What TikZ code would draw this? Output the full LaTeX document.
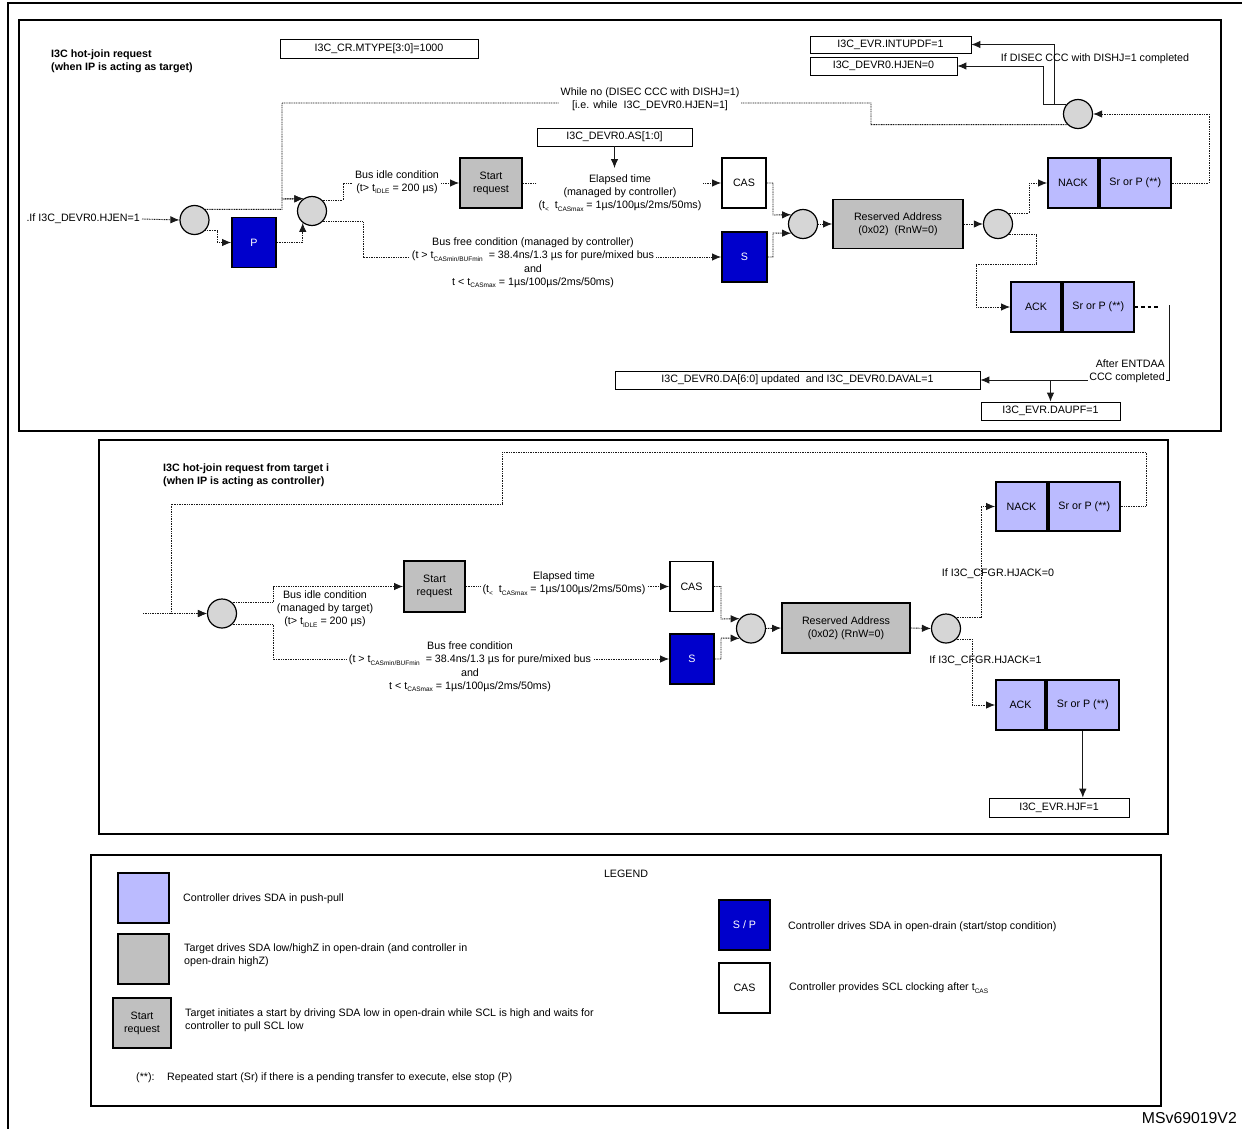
\documentclass[tikz,border=0pt]{standalone}
\usepackage{fontspec}
\setmainfont{Liberation Sans}
\setsansfont{Liberation Sans}
\usetikzlibrary{positioning,arrows.meta}

\definecolor{sdablue}{RGB}{0,0,204}
\definecolor{pushlav}{RGB}{187,187,255}
\definecolor{draingray}{RGB}{192,192,192}
\definecolor{junctiongray}{RGB}{214,214,214}

\newcommand{\lblfont}{\fontsize{10.7}{13.2}\selectfont}
\newcommand{\tsub}[1]{\raisebox{-0.45ex}{\fontsize{6.5}{7}\selectfont #1}}

\begin{document}
\begin{tikzpicture}[x=1pt, y=-1pt,
	every node/.style={font=\lblfont, inner sep=2pt},
	panel/.style={draw, line width=1.2pt},
	title/.style={font=\lblfont\bfseries, align=left, anchor=west},
	regbox/.style={draw, line width=0.8pt, minimum height=18pt},
	junction/.style={circle, draw, fill=junctiongray, line width=1.2pt, minimum size=29pt, inner sep=0pt},
	odblue/.style={draw, fill=sdablue, text=white, line width=1.8pt, minimum width=44pt, minimum height=50pt},
	odgray/.style={draw, fill=draingray, line width=1.8pt, minimum height=50pt, align=center},
	pplav/.style={draw, fill=pushlav, line width=1.8pt, minimum height=50pt},
	casbox/.style={draw, fill=white, line width=1.8pt, minimum width=44pt, minimum height=50pt},
	onwire/.style={fill=white, align=center},
	wire/.style={draw=black!90, line width=0.9pt, dash pattern=on 1pt off 0.7pt, -{Latex[length=9pt,width=7.5pt]}},
	solidwire/.style={draw=black!90, line width=0.9pt, -{Latex[length=9pt,width=7.5pt]}}]

	\useasboundingbox (0,0) rectangle (1242,1129);

	% frame and the three panels
	\draw[line width=2.4pt] (8,1129) -- (8,3) -- (1242,3);
	\draw[panel] (19,20) rectangle (1221,431);
	\draw[panel] (99,440) rectangle (1168,834);
	\draw[panel] (91,855) rectangle (1161,1106);

	% ---- hot-join, IP as target ----
	\node[title] (ttltarget) at (49,61) {I3C hot-join request\\(when IP is acting as target)};
	\node[regbox, minimum width=198pt, minimum height=19pt] (mtype) at (379,48.5) {I3C\_CR.MTYPE[3:0]=1000};
	\node[regbox, minimum width=161pt, minimum height=17pt] (intupdf) at (890.5,44.5) {I3C\_EVR.INTUPDF=1};
	\node[regbox, minimum width=147pt] (hjenoff) at (883.5,66) {I3C\_DEVR0.HJEN=0};
	\node[regbox, minimum width=155pt] (asreg) at (614.5,137) {I3C\_DEVR0.AS[1:0]};
	\coordinate (astip) at (614.5,168);

	\node[anchor=east] (ifhjen) at (142,219) {.If I3C\_DEVR0.HJEN=1};
	\node[junction] (c1) at (194.5,220) {};
	\node[odblue] (pbox) at (254,242.5) {P};
	\node[junction] (c2) at (312,211) {};
	\node[odgray, minimum width=62pt] (startreq) at (491,183) {Start\\request};
	\node[casbox] (cas) at (744,183) {CAS};
	\node[odblue, minimum width=45pt] (sbox) at (744.5,257) {S};
	\node[junction] (c3) at (803,224) {};
	\node[odgray, minimum width=130pt, minimum height=49pt] (resv) at (898,224) {Reserved Address\\(0x02)~~(RnW=0)};
	\node[junction] (c4) at (998,224) {};
	\node[pplav, minimum width=50pt] (nack) at (1073,183) {NACK};
	\node[pplav, minimum width=71pt, right=0pt of nack] (srn) {Sr or P (**)};
	\node[junction] (cdis) at (1078,114) {};
	\node[pplav, minimum width=50pt] (ack) at (1036,307) {ACK};
	\node[pplav, minimum width=71pt, right=0pt of ack] (sra) {Sr or P (**)};
	\coordinate (dotend) at (1158,307);
	\coordinate (entdaa) at (1169,305);
	\node[regbox, minimum width=365pt] (dareg) at (797.5,380) {I3C\_DEVR0.DA[6:0] updated~~and I3C\_DEVR0.DAVAL=1};
	\node[regbox, minimum width=139pt] (daupf) at (1050.5,411) {I3C\_EVR.DAUPF=1};

	\draw[wire] (ifhjen.east) -- (c1.west);
	\draw[wire] (c1.south east) -| ([xshift=-14pt]pbox.west) -- (pbox.west);
	\draw[wire] (c1.north east) -| (282,199) -- (c2.125);
	\draw[wire] (cdis.south west) -| (871,103) -| (282,199) -- (c2.125);
	\draw[wire] (pbox.east) -| (c2.-128);
	\draw[wire] (c2.north east) -| (343,183) -- (startreq.west);
	\draw[wire] (c2.south east) -| (363,257) -- (sbox.west);
	\draw[wire] (startreq.east) -- (cas.west);
	\draw[solidwire] (asreg.south) -- (astip);
	\draw[wire] (cas.east) -| (773,215) -- (c3.142);
	\draw[wire] (sbox.east) -| (773,233) -- (c3.-142);
	\draw[wire] (c3.east) -- (resv.west);
	\draw[wire] (resv.east) -- (c4.west);
	\draw[wire] (c4.north east) -| (1029,183) -- (nack.west);
	\draw[wire] (c4.south east) -| (1036,264) -| (976,307) -- (ack.west);
	\draw[wire] (srn.east) -| (1209,114) -- (cdis.east);
	\draw[solidwire] (cdis.140) -| (1043,66) -- (hjenoff.east);
	\draw[solidwire] (cdis.140) -| (1054,44.5) -- (intupdf.east);
	\draw[line width=2pt, dash pattern=on 3.5pt off 3pt] (sra.east) -- (dotend);
	\draw[solidwire] (entdaa) |- (dareg.east);
	\draw[solidwire] (daupf.north |- dareg.east) -- (daupf.north);

	\node[onwire] (whileno) at (650,99.5) {While no (DISEC CCC with DISHJ=1)\\{}[i.e. while~~I3C\_DEVR0.HJEN=1]};
	\node[onwire] (idlelbl) at (397,182) {Bus idle condition\\(t> t\tsub{IDLE} = 200 µs)};
	\node[onwire] (elapsedlbl) at (620,193) {Elapsed time\\(managed by controller)\\(t\tsub{<}~~t\tsub{CASmax} = 1µs/100µs/2ms/50ms)};
	\node[onwire] (freelbl) at (533,263) {Bus free condition (managed by controller)\\(t > t\tsub{CASmin/BUFmin}~~= 38.4ns/1.3 µs for pure/mixed bus\\and\\t < t\tsub{CASmax} = 1µs/100µs/2ms/50ms)};
	\node (dislbl) at (1095,59) {If DISEC CCC with DISHJ=1 completed};
	\node[onwire, align=right, anchor=east, inner sep=1pt] (afterlbl) at (1166,371) {After ENTDAA\\CCC completed};

	% ---- hot-join, IP as controller ----
	\node[title] (ttlctrl) at (161,475) {I3C hot-join request from target i\\(when IP is acting as controller)};
	\coordinate (mentry) at (143,613.5);
	\node[junction] (cm1) at (222,613.5) {};
	\node[odgray, minimum width=61pt, minimum height=51pt] (startm) at (434.5,586.5) {Start\\request};
	\node[casbox, minimum width=43pt] (casm) at (691.5,586.5) {CAS};
	\node[odblue] (sm) at (692,659) {S};
	\node[junction] (cm2) at (751,628.5) {};
	\node[odgray, minimum width=128pt] (resvm) at (846,628) {Reserved Address\\(0x02) (RnW=0)};
	\node[junction] (cm3) at (946,628.5) {};
	\node[pplav, minimum width=51pt, minimum height=49pt] (nackm) at (1021.5,506.5) {NACK};
	\node[pplav, minimum width=71pt, minimum height=49pt, right=0pt of nackm] (srnm) {Sr or P (**)};
	\node[pplav, minimum width=49pt] (ackm) at (1020.5,705) {ACK};
	\node[pplav, minimum width=72pt, right=0pt of ackm] (sram) {Sr or P (**)};
	\node[regbox, minimum width=140pt, minimum height=19pt] (hjf) at (1059,807.5) {I3C\_EVR.HJF=1};

	\draw[wire] (mentry) -- (cm1.west);
	\draw[wire] (srnm.east) -| (1146,452) -| (502,504) -| (171,613.5) -- (cm1.west);
	\draw[wire] (cm1.north east) -| (273,586.5) -- (startm.west);
	\draw[wire] (cm1.south east) -| (273,659) -- (sm.west);
	\draw[wire] (startm.east) -- (casm.west);
	\draw[wire] (casm.east) -| (721,619) -- (cm2.139);
	\draw[wire] (sm.east) -| (721,638) -- (cm2.-139);
	\draw[wire] (cm2.east) -- (resvm.west);
	\draw[wire] (resvm.east) -- (cm3.west);
	\draw[wire] (cm3.north east) -| (981,506.5) -- (nackm.west);
	\draw[wire] (cm3.south east) -| (972,705) -- (ackm.west);
	\draw[solidwire] (sram.south) -- (sram.south |- hjf.north);

	\node[align=center] (idlem) at (325,609) {Bus idle condition\\(managed by target)\\(t> t\tsub{IDLE} = 200 µs)};
	\node[onwire] (elapsedm) at (564,583.5) {Elapsed time\\(t\tsub{<}~~t\tsub{CASmax} = 1µs/100µs/2ms/50ms)};
	\node[onwire] (freem) at (470,667) {Bus free condition\\(t > t\tsub{CASmin/BUFmin}~~= 38.4ns/1.3 µs for pure/mixed bus\\and\\t < t\tsub{CASmax} = 1µs/100µs/2ms/50ms)};
	\node (hjack0) at (998,574) {If I3C\_CFGR.HJACK=0};
	\node (hjack1) at (985.5,661) {If I3C\_CFGR.HJACK=1};

	% ---- legend ----
	\node (legendttl) at (626,874) {LEGEND};
	\node[pplav, minimum width=51pt] (lgpush) at (143.5,898) {};
	\node[anchor=west] (lgpushtxt) at (181,899) {Controller drives SDA in push-pull};
	\node[odgray, minimum width=51pt] (lgdrain) at (143.5,959) {};
	\node[anchor=west, align=left] (lgdraintxt) at (182,955.5) {Target drives SDA low/highZ in open-drain (and controller in\\open-drain highZ)};
	\node[odgray, minimum width=58pt] (lgstart) at (142,1023) {Start\\request};
	\node[anchor=west, align=left] (lgstarttxt) at (183,1020) {Target initiates a start by driving SDA low in open-drain while SCL is high and waits for\\controller to pull SCL low};
	\node[anchor=west] (lgnote) at (134,1078) {(**):};
	\node[anchor=west] (lgnotetxt) at (165,1078) {Repeated start (Sr) if there is a pending transfer to execute, else stop (P)};
	\node[odblue, minimum width=51pt] (lgsp) at (744.5,925) {S / P};
	\node[anchor=west] (lgsptxt) at (786,927) {Controller drives SDA in open-drain (start/stop condition)};
	\node[casbox, minimum width=51pt] (lgcas) at (744.5,988) {CAS};
	\node[anchor=west] (lgcastxt) at (787,988) {Controller provides SCL clocking after t\tsub{CAS}};

	\node[anchor=east, font=\fontsize{15.8}{18}\selectfont] (docid) at (1239,1118) {MSv69019V2};
\end{tikzpicture}
\end{document}
